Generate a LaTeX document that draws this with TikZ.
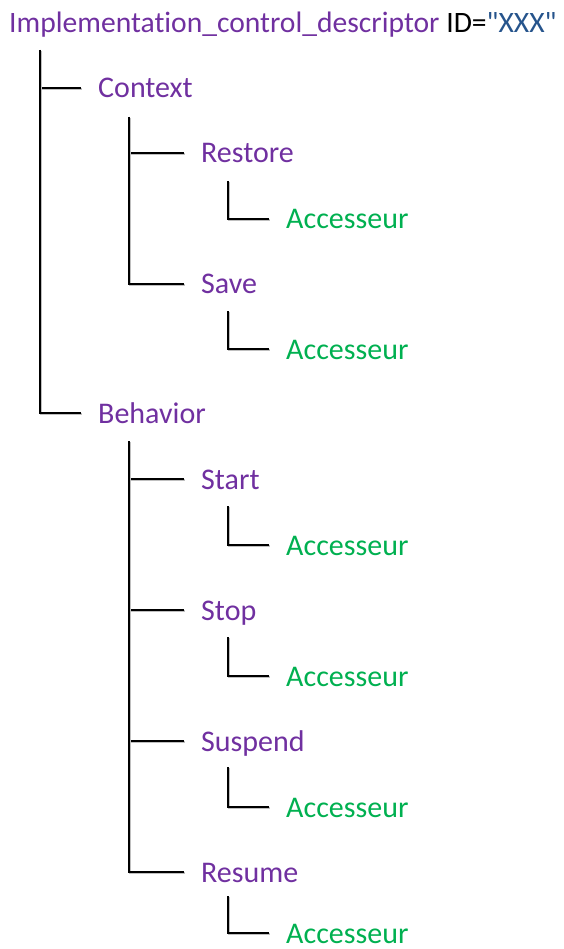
\documentclass[tikz,border=0pt]{standalone}
\usepackage{fontspec}
\setmainfont[Ligatures={NoCommon}]{Carlito}
\newfontfamily\cf[Ligatures={NoCommon}]{Carlito}
\definecolor{cpurple}{HTML}{7030A0}
\definecolor{cgreen}{HTML}{00B050}
\definecolor{cblue}{RGB}{38,84,140}
\begin{document}
\begin{tikzpicture}[x=1pt,y=-1pt,
  lbl/.style={inner sep=0pt,anchor=west,text height=20pt,text depth=0pt,font=\cf\fontsize{30}{35}\selectfont},
  elem/.style={lbl,text=cpurple},
  acc/.style={lbl,text=cgreen},
  branch/.style={line width=1.8pt,black,shorten >=17pt,
     preaction={draw=black!25,line width=2.4pt,transform canvas={xshift=1.2pt,yshift=-1.2pt}}}]
\useasboundingbox (0,0) rectangle (563,949);
% title
\node[inner sep=0pt,anchor=base west,font=\cf\fontsize{29.6}{35}\selectfont] (title) at (9,33)
  {\textcolor{cpurple}{Implementation\_control\_descriptor} ID=\textcolor{cblue}{"XXX"}};
% level 1
\node[elem] (ctx) at (98,88) {Context};
\node[elem] (beh) at (98,413) {Behavior};
% context children
\node[elem] (rest) at (201,153) {Restore};
\node[elem] (save) at (201,284) {Save};
\node[acc] (a1) at (286,219) {Accesseur};
\node[acc] (a2) at (286,349) {Accesseur};
% behavior children
\node[elem] (start) at (201,479) {Start};
\node[elem] (stop) at (201,610) {Stop};
\node[elem] (susp) at (201,741) {Suspend};
\node[elem] (resu) at (201,872) {Resume};
\node[acc] (a3) at (286,545) {Accesseur};
\node[acc] (a4) at (286,676) {Accesseur};
\node[acc] (a5) at (286,807) {Accesseur};
\node[acc] (a6) at (286,933) {Accesseur};
% branch origins
\coordinate (t0) at (40,50);
\coordinate (tc) at (129,117);
\coordinate (tb) at (129,441);
\coordinate (tr) at (228,181);
\coordinate (ts) at (228,311);
\coordinate (tst) at (228,506);
\coordinate (tsp) at (228,637);
\coordinate (tsu) at (228,767);
\coordinate (tre) at (228,896);
% connectors
\draw[branch] (t0) |- (ctx.west);
\draw[branch] (t0) |- (beh.west);
\draw[branch] (tc) |- (rest.west);
\draw[branch] (tc) |- (save.west);
\draw[branch] (tr) |- (a1.west);
\draw[branch] (ts) |- (a2.west);
\draw[branch] (tb) |- (start.west);
\draw[branch] (tb) |- (stop.west);
\draw[branch] (tb) |- (susp.west);
\draw[branch] (tb) |- (resu.west);
\draw[branch] (tst) |- (a3.west);
\draw[branch] (tsp) |- (a4.west);
\draw[branch] (tsu) |- (a5.west);
\draw[branch] (tre) |- (a6.west);
\end{tikzpicture}
\end{document}
